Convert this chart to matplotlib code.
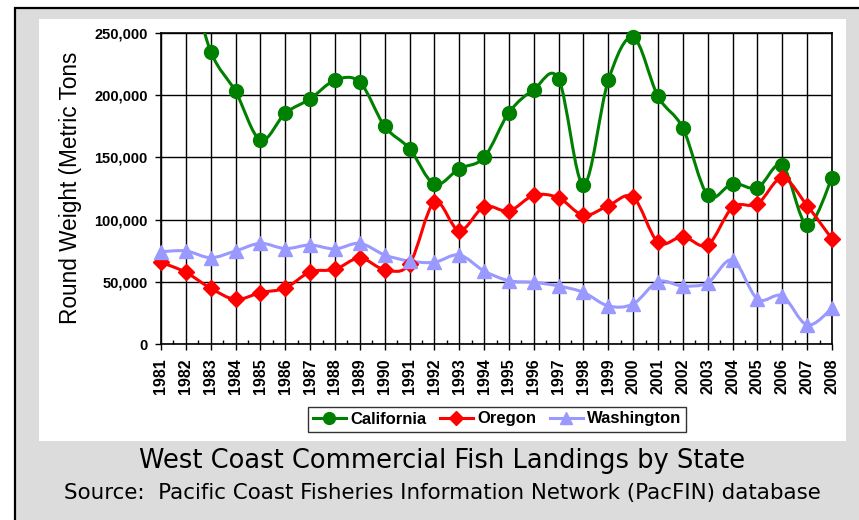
import matplotlib
matplotlib.use("Agg")
import matplotlib.pyplot as plt
from matplotlib.path import Path
from matplotlib.patches import PathPatch, Rectangle
from matplotlib.lines import Line2D
from matplotlib.ticker import FuncFormatter, MultipleLocator

years = list(range(1981, 2009))
california = [290000, 300000, 235000, 203000, 164000, 185500, 197000, 212000, 210500, 175000,
              157000, 128500, 141000, 150000, 186000, 204500, 213000, 128000, 212000, 246500,
              199000, 173500, 119500, 129000, 125500, 143500, 95500, 133500]
oregon = [65700, 57600, 44800, 35900, 41300, 45000, 57900, 60000, 69100, 59800,
          64300, 114000, 91100, 110400, 106900, 119500, 117500, 103500, 111200, 118000,
          81800, 86300, 79600, 109900, 112600, 133500, 111200, 84400]
washington = [74200, 74800, 69400, 74800, 80900, 76700, 79600, 76400, 80900, 71600,
              66700, 65700, 71600, 58700, 50900, 49600, 46600, 41500, 30600, 32200,
              50100, 46600, 49300, 67500, 36200, 38600, 15300, 28700]

series = [("California", california, "#008000", "o", 10),
          ("Oregon", oregon, "#ff0000", "D", 8),
          ("Washington", washington, "#9999ff", "^", 10)]

YMAX = 250000

fig = plt.figure(figsize=(8.59, 5.2), dpi=100)
fig.patch.set_facecolor("white")
W, H = 859, 520
# gray frame with black top/left border
fig.patches.append(Rectangle((15 / W, -0.1), 1, 1.1 - 8 / H, transform=fig.transFigure,
                             facecolor="#dcdcdc", edgecolor="black", linewidth=1.6, zorder=0))
# white panel
fig.patches.append(Rectangle((39 / W, 1 - 441 / H), 807 / W, 422 / H, transform=fig.transFigure,
                             facecolor="white", edgecolor="none", zorder=1))

ax = fig.add_axes([161 / W, 1 - 344 / H, (832 - 161) / W, (344 - 33) / H])
ax.set_zorder(2)
ax.set_xlim(1981, 2008)
ax.set_ylim(0, YMAX)
ax.set_xticks(years)
ax.set_xticks([y + 0.5 for y in years[:-1]], minor=True)
ax.yaxis.set_major_locator(MultipleLocator(50000))
ax.yaxis.set_major_formatter(FuncFormatter(lambda v, p: f"{int(v):,}"))
ax.grid(True, which="major", color="black", linewidth=1.0)
ax.set_axisbelow(True)
for s in ax.spines.values():
    s.set_linewidth(1.2)
ax.tick_params(axis="y", which="major", length=4, width=1, pad=5.5)
ax.tick_params(axis="x", which="major", length=4, width=1, pad=6.5)
ax.tick_params(axis="x", which="minor", length=3, width=1, direction="in")
for lab in ax.get_yticklabels():
    lab.set_fontfamily("Liberation Sans")
    lab.set_fontweight("bold")
    lab.set_fontsize(10.5)
for lab in ax.get_xticklabels():
    lab.set_fontfamily("Liberation Sans")
    lab.set_fontweight("bold")
    lab.set_fontsize(11.5)
    lab.set_rotation(90)

ax.set_ylabel("Round Weight (Metric Tons", fontfamily="Liberation Sans", fontsize=16.3)
ax.yaxis.set_label_coords((71 - 161) / 671, (344 - 188) / 311)
ax.yaxis.label.set_va("center")


def smooth_path(xs, ys):
    pts = list(zip(xs, ys))
    n = len(pts)
    verts = [pts[0]]
    codes = [Path.MOVETO]
    for i in range(n - 1):
        p0 = pts[i - 1] if i > 0 else pts[i]
        p1 = pts[i]
        p2 = pts[i + 1]
        p3 = pts[i + 2] if i + 2 < n else pts[i + 1]
        c1 = (p1[0] + (p2[0] - p0[0]) / 6, p1[1] + (p2[1] - p0[1]) / 6)
        c2 = (p2[0] - (p3[0] - p1[0]) / 6, p2[1] - (p3[1] - p1[1]) / 6)
        verts += [c1, c2, p2]
        codes += [Path.CURVE4] * 3
    return Path(verts, codes)


handles = []
for name, vals, color, mk, ms in series:
    patch = PathPatch(smooth_path(years, vals), facecolor="none", edgecolor=color,
                      linewidth=2.2, zorder=3)
    ax.add_patch(patch)
    vis = [(x, v) for x, v in zip(years, vals) if v <= YMAX]
    ax.plot([p[0] for p in vis], [p[1] for p in vis], linestyle="none", marker=mk,
            markersize=ms, color=color, markeredgecolor=color, zorder=4, clip_on=False)
    handles.append(Line2D([], [], color=color, marker=mk, markersize=ms * 0.85, linewidth=2.2,
                          label=name))

leg = fig.legend(handles=handles, loc="center", bbox_to_anchor=(497 / W, 1 - 419 / H),
                 ncol=3, frameon=True, fancybox=False, edgecolor="black", handlelength=2.0,
                 handletextpad=0.25, columnspacing=0.8, borderpad=0.3,
                 prop={"family": "Liberation Sans", "weight": "bold", "size": 12})
leg.get_frame().set_linewidth(1.0)
leg.set_zorder(5)

fig.text(442 / W, 1 - 461 / H, "West Coast Commercial Fish Landings by State",
         ha="center", va="center", fontfamily="DejaVu Sans", fontsize=18.5, zorder=5)
fig.text(442 / W, 1 - 493 / H, "Source:  Pacific Coast Fisheries Information Network (PacFIN) database",
         ha="center", va="center", fontfamily="DejaVu Sans", fontsize=15.4, zorder=5)

fig.savefig("out.png", dpi=100)
